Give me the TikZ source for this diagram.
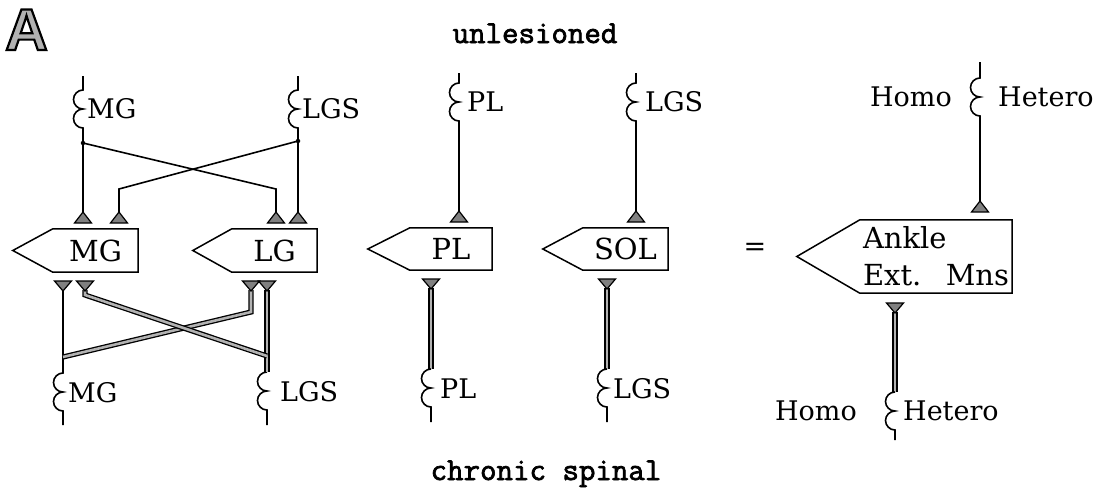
\documentclass[tikz,border=0pt]{standalone}
\usepackage{fontspec}
\setmainfont{DejaVu Serif}
\newfontfamily\panelfont{Liberation Sans}
\begin{document}
% outline of a motor-nucleus box: rectangle with a point on its left side
\newcommand{\pointedbox}[2]{%
  \draw[boxline] (#1.north west) -- (#1.north east) -- (#1.south east)
    -- (#1.south west) -- ([xshift=-#2pt]#1.west) -- cycle;}
% outlined glyphs: fill with the current colour, stroke in black
\newcommand{\outlinedtext}[1]{%
  \special{pdf:literal direct 2 Tr 2.2 w 0 0 0 RG}#1\special{pdf:literal direct 0 Tr}}
% slightly heavier typewriter text: glyphs filled and stroked thinly
\newcommand{\heavytext}[1]{%
  \special{pdf:literal direct 2 Tr 0.7 w 0 0 0 RG}#1\special{pdf:literal direct 0 Tr}}
\begin{tikzpicture}[x=1pt,y=-1pt,
  wire/.style={line width=1.6pt, line join=miter},
  fibre/.style={line width=1.3pt, double=gray!60, double distance=2.6pt, line join=miter},
  boxline/.style={line width=1.5pt, line join=miter},
  coil/.style={insert path={arc[start angle=270,end angle=90,radius=9.5]
                            arc[start angle=270,end angle=90,radius=9.5]}},
  muscle/.style={rectangle, inner sep=0pt, font=\fontsize{29}{37}\selectfont},
  lbl/.style={font=\fontsize{27}{30}\selectfont, inner sep=0pt},
  title/.style={font=\ttfamily\fontsize{32}{36}\selectfont, inner sep=0pt},
  junc/.style={circle, fill, inner sep=0pt, minimum size=4.5pt},
  synfill/.style={line width=1.2pt, fill=black!50, line join=miter},
  upsyn/.pic={\draw[synfill] (-8.5,0) -- (8.5,0) -- (0,-11) -- cycle;
              \coordinate (-tip) at (0,-11);},
  dnsyn/.pic={\draw[synfill] (-8.5,0) -- (8.5,0) -- (0,10) -- cycle;
              \coordinate (-tip) at (0,10);},
]
\useasboundingbox (0,0) rectangle (1110,496);

% panel letter and condition titles
\node[font=\panelfont\bfseries\fontsize{59}{60}\selectfont, text=gray!60,
      anchor=base west, inner sep=0pt] (panel) at (5,50) {\outlinedtext{A}};
\node[title, anchor=base] (unl) at (535,43) {\heavytext{unlesioned}};
\node[title, anchor=base] (chr) at (546,480) {\heavytext{chronic spinal}};

% motor-nucleus boxes
\node[muscle, minimum width=85pt, minimum height=43pt] (mg) at (95.5,250.5) {MG};
\node[muscle, minimum width=85pt, minimum height=43pt] (lg) at (274.5,250.5) {LG};
\node[muscle, minimum width=82pt, minimum height=42pt] (pl) at (451,249) {PL};
\node[muscle, minimum width=85pt, minimum height=42pt] (sol) at (625.5,249) {SOL};
\node[muscle, minimum width=152pt, minimum height=73pt, text width=146pt, align=left]
  (ank) at (936,256.5) {Ankle\\Ext.\hfill Mns};
\pointedbox{mg}{40}
\pointedbox{lg}{39}
\pointedbox{pl}{42}
\pointedbox{sol}{40}
\pointedbox{ank}{63}
\node[lbl] (eq) at (755,249) {=};

% ---------- unlesioned: afferent inputs from above ----------
\coordinate (mgIn) at (83,76);   \coordinate (mgC) at (83,90);   \coordinate (mgJ) at (83,143);
\coordinate (lgsIn) at (298,76); \coordinate (lgsC) at (298,90); \coordinate (lgsJ) at (298,141);
\coordinate (bendA) at (276,189); \coordinate (bendB) at (119,189);
\draw[wire] (mgIn) -- (mgC) [coil] -- (mgJ) -- (83,214);
\draw[wire] (lgsIn) -- (lgsC) [coil] -- (lgsJ) -- (298,214);
\draw[wire] (mgJ) -- (bendA) -- (276,214);
\draw[wire] (lgsJ) -- (bendB) -- (119,214);
\pic (s1) at (83,223) {upsyn};
\pic (s2) at (119,223) {upsyn};
\pic (s3) at (276,223) {upsyn};
\pic (s4) at (298,223) {upsyn};
\node[junc] (jm) at (mgJ) {};
\node[junc] (jl) at (lgsJ) {};
\node[lbl, anchor=west] (tmg) at (87,109) {MG};
\node[lbl, anchor=west] (tlgs) at (302,109) {LGS};

\coordinate (plIn) at (459,73); \coordinate (plC) at (459,83);
\draw[wire] (plIn) -- (plC) [coil] -- (459,212);
\pic (s5) at (459,222) {upsyn};
\node[lbl, anchor=west] (tpl) at (467,102) {PL};

\coordinate (solIn) at (636,73); \coordinate (solC) at (636,83);
\draw[wire] (solIn) -- (solC) [coil] -- (636,212);
\pic (s6) at (636,222) {upsyn};
\node[lbl, anchor=west] (tsol) at (645,102) {LGS};

\coordinate (ankIn) at (980,62); \coordinate (ankC) at (980,78);
\draw[wire] (ankIn) -- (ankC) [coil] -- (980,202);
\pic (s7) at (980,212) {upsyn};
\node[lbl, anchor=east] (thomo) at (952,97) {Homo};
\node[lbl, anchor=west] (thet) at (998,97) {Hetero};

% ---------- chronic spinal: afferent inputs from below ----------
\coordinate (mgBC) at (63,373);  \coordinate (mgBOut) at (63,425); \coordinate (mgBJ) at (63,357);
\coordinate (lgsBC) at (267,372); \coordinate (lgsBOut) at (267,425); \coordinate (lgsBJ) at (267,356);
\coordinate (bendC) at (85,295); \coordinate (bendD) at (251,312);
\draw[wire] (63,290) -- (mgBC) [coil] -- (mgBOut);
\draw[wire] (lgsBC) [coil] -- (lgsBOut);
\draw[fibre] (251,290) -- (bendD) -- (mgBJ);
\draw[fibre] (267,290) -- (lgsBC);
\draw[fibre] (85,290) -- (bendC) -- (lgsBJ);
\pic (b1) at (63,281) {dnsyn};
\pic (b2) at (85,281) {dnsyn};
\pic (b3) at (251,281) {dnsyn};
\pic (b4) at (267,281) {dnsyn};
\node[lbl, anchor=west] (bmg) at (68,393) {MG};
\node[lbl, anchor=west] (blgs) at (280,392) {LGS};

\coordinate (plBC) at (431,369); \coordinate (plBOut) at (431,422);
\draw[fibre] (431,288) -- (plBC);
\draw[wire] (plBC) [coil] -- (plBOut);
\pic (b5) at (431,279) {dnsyn};
\node[lbl, anchor=west] (bpl) at (440,389) {PL};

\coordinate (solBC) at (607,369); \coordinate (solBOut) at (607,422);
\draw[fibre] (607,288) -- (solBC);
\draw[wire] (solBC) [coil] -- (solBOut);
\pic (b6) at (607,279) {dnsyn};
\node[lbl, anchor=west] (bsol) at (613,389) {LGS};

\coordinate (ankBC) at (895,392); \coordinate (ankBOut) at (895,440);
\draw[fibre] (895,312) -- (ankBC);
\draw[wire] (ankBC) [coil] -- (ankBOut);
\pic (b7) at (895,303) {dnsyn};
\node[lbl, anchor=east] (bhomo) at (857,411) {Homo};
\node[lbl, anchor=west] (bhet) at (903,411) {Hetero};
\end{tikzpicture}
\end{document}
